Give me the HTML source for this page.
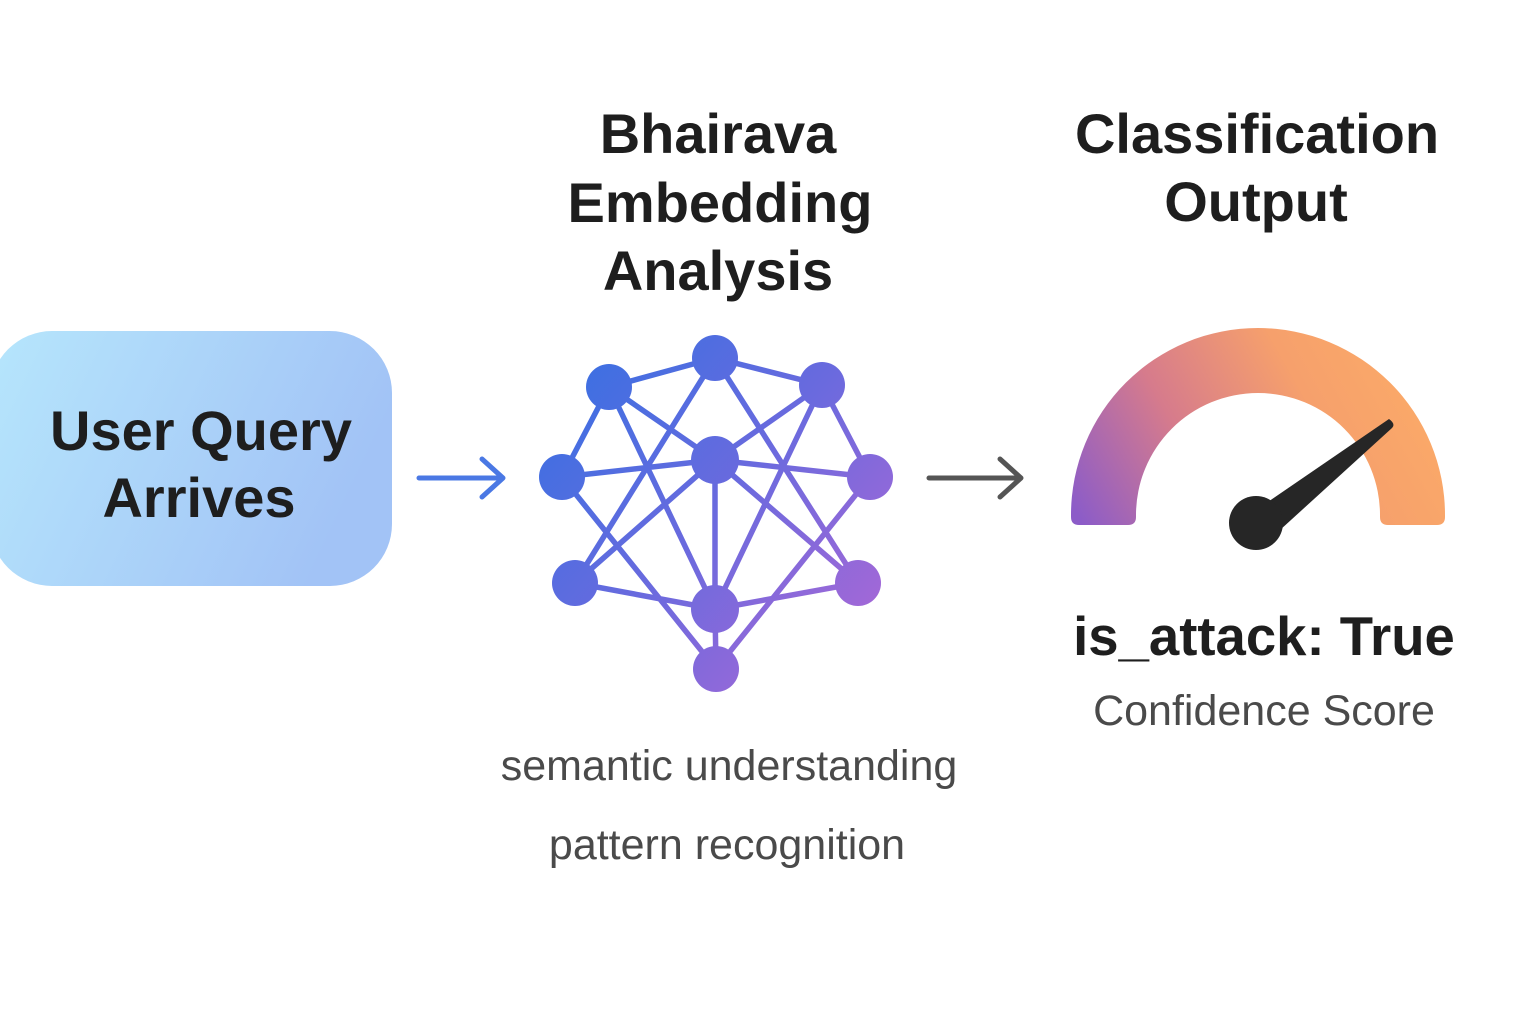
<!DOCTYPE html>
<html><head><meta charset="utf-8"><style>
html,body{margin:0;padding:0;background:#fff;}
body{width:1536px;height:1024px;overflow:hidden;position:relative;}
</style></head><body>
<svg width="1536" height="1024" viewBox="0 0 1536 1024" xmlns="http://www.w3.org/2000/svg" style="position:absolute;left:0;top:0">
<defs>
<linearGradient id="qb" x1="0" y1="0" x2="1" y2="0.3"><stop offset="0" stop-color="#b6e6fc"/><stop offset="1" stop-color="#a2c3f6"/></linearGradient>
<linearGradient id="net" gradientUnits="userSpaceOnUse" x1="560" y1="370" x2="880" y2="640"><stop offset="0" stop-color="#3a70e2"/><stop offset="0.5" stop-color="#6a6ade"/><stop offset="1" stop-color="#a968d6"/></linearGradient>
<linearGradient id="gg" gradientUnits="userSpaceOnUse" x1="1080" y1="520" x2="1400" y2="340"><stop offset="0" stop-color="#8c5cc8"/><stop offset="0.35" stop-color="#d67b8c"/><stop offset="0.7" stop-color="#f6a06c"/><stop offset="1" stop-color="#fbaa68"/></linearGradient>
</defs>
<rect x="-10" y="331" width="402" height="255" rx="62" fill="url(#qb)"/>
<g font-family="Liberation Sans, sans-serif" font-weight="bold" fill="#1e1e1e" text-anchor="middle" font-size="56">
<text x="201" y="450">User Query</text><text x="199" y="517">Arrives</text>
<text x="718" y="153">Bhairava</text><text x="720" y="222">Embedding</text><text x="718" y="290">Analysis</text>
<text x="1257" y="153">Classification</text><text x="1256" y="221">Output</text>
<text x="1264" y="655" font-size="54.5">is_attack: True</text>
</g>
<g font-family="Liberation Sans, sans-serif" fill="#4a4a4a" text-anchor="middle">
<text x="1264" y="725" font-size="43">Confidence Score</text>
<text x="729" y="780" font-size="43">semantic understanding</text>
<text x="727" y="859" font-size="43">pattern recognition</text>
</g>
<g stroke="#4a78e4" stroke-width="5" fill="none" stroke-linecap="round" stroke-linejoin="round">
<path d="M419 478H502M482 459L503 478L482 497"/></g>
<g stroke="#555" stroke-width="5" fill="none" stroke-linecap="round" stroke-linejoin="round">
<path d="M929 478H1020M1000 459L1021 478L1000 497"/></g>
<g stroke="url(#net)" stroke-width="5.5" fill="none">
<path d="M715 358L609 387M715 358L822 385M609 387L562 477M822 385L870 477M609 387L715 460M822 385L715 460M715 358L575 583M715 358L858 583M609 387L715 609M822 385L715 609M562 477L716 669M870 477L716 669M575 583L715 460M858 583L715 460M562 477L715 460M870 477L715 460M715 460L715 609M575 583L715 609M858 583L715 609M715 609L716 669"/>
</g>
<g fill="url(#net)">
<circle cx="715" cy="358" r="23"/><circle cx="609" cy="387" r="23"/><circle cx="822" cy="385" r="23"/>
<circle cx="715" cy="460" r="24"/><circle cx="562" cy="477" r="23"/><circle cx="870" cy="477" r="23"/>
<circle cx="575" cy="583" r="23"/><circle cx="858" cy="583" r="23"/><circle cx="715" cy="609" r="24"/><circle cx="716" cy="669" r="23"/>
</g>
<path d="M1071 515A187 187 0 0 1 1445 515V517Q1445 525 1437 525H1388Q1380 525 1380 517V515A122 122 0 0 0 1136 515V517Q1136 525 1128 525H1079Q1071 525 1071 517Z" fill="url(#gg)"/>
<path d="M1262 506L1389 419Q1396 424 1392 428L1280 530Z" fill="#262626"/>
<circle cx="1256" cy="523" r="27" fill="#262626"/>
</svg>
</body></html>
